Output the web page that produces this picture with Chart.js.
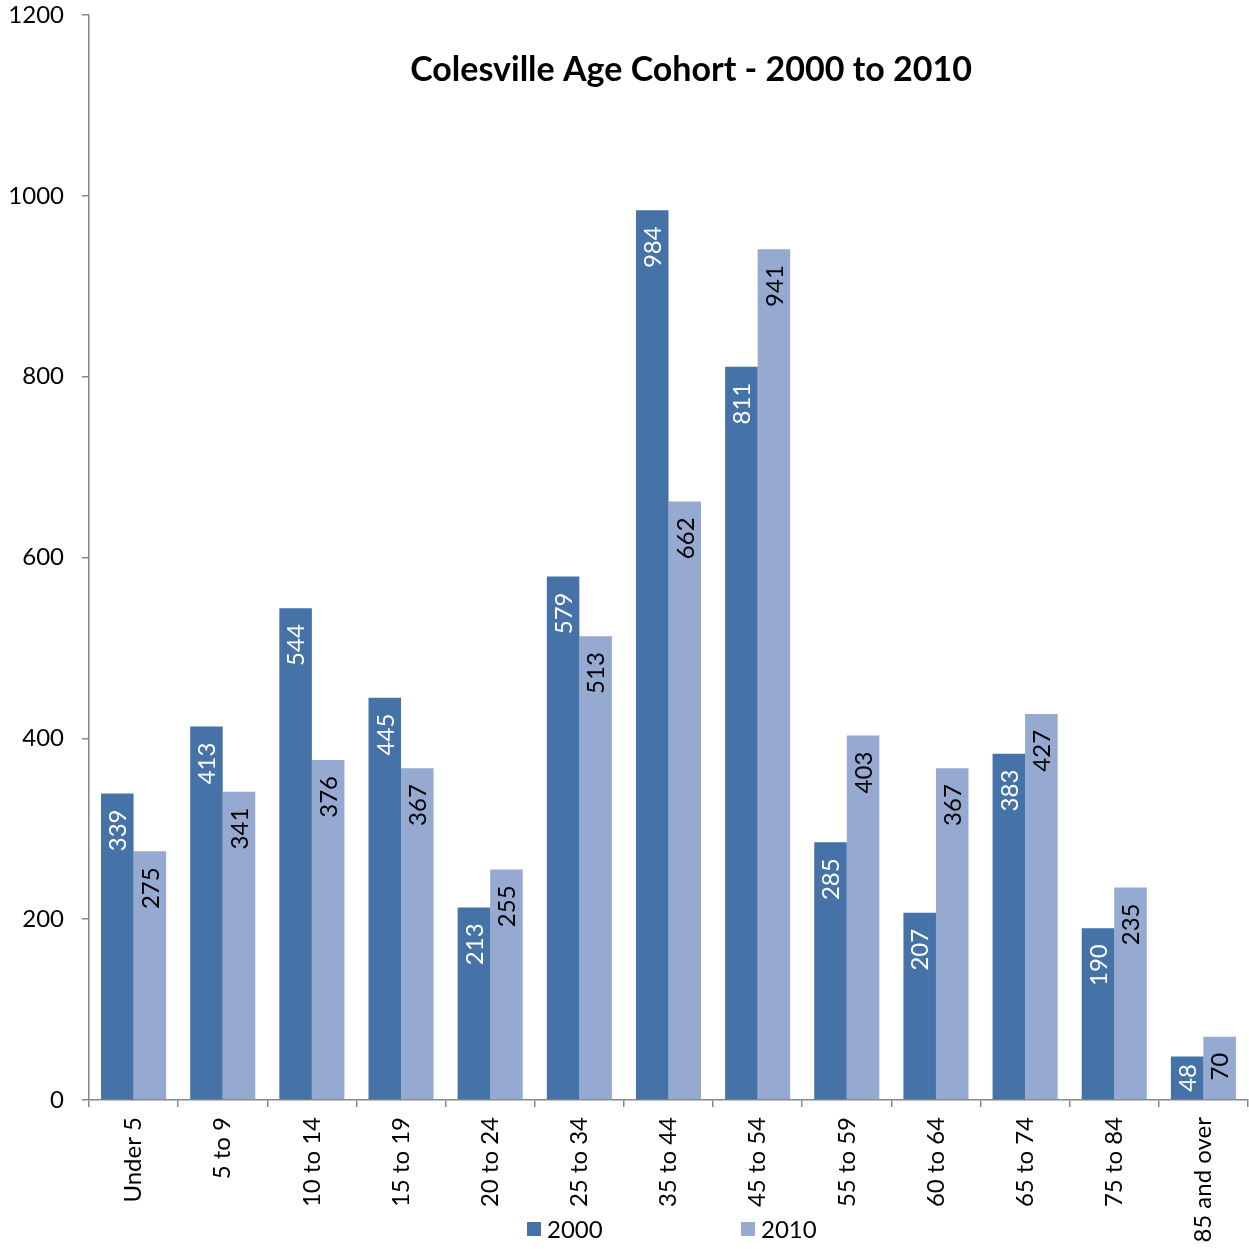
<!DOCTYPE html>
<html>
  <head>
    <meta charset="UTF-8" />
    <title>Colesville Age Cohort</title>
    <script src="https://cdn.jsdelivr.net/npm/chart.js"></script>
    <style>
      html, body { margin: 0; padding: 0; background: #fff; }
      #wrap { width: 1249px; height: 1249px; }
    </style>
  </head>
  <body>
    <div id="wrap"><canvas id="c" width="1249" height="1249"></canvas></div>
    <script>
      const categories = ["Under 5", "5 to 9", "10 to 14", "15 to 19", "20 to 24", "25 to 34",
        "35 to 44", "45 to 54", "55 to 59", "60 to 64", "65 to 74", "75 to 84", "85 and over"];
      const values2000 = [339, 413, 544, 445, 213, 579, 984, 811, 285, 207, 383, 190, 48];
      const values2010 = [275, 341, 376, 367, 255, 513, 662, 941, 403, 367, 427, 235, 70];
      const yTicks = [0, 200, 400, 600, 800, 1000, 1200];

      const FONT = "Lato, 'Liberation Sans', sans-serif";
      const axisColor = "#868686";

      // value labels inside the bar tops, rotated
      const barLabels = {
        id: "barLabels",
        afterDatasetsDraw(chart) {
          const ctx = chart.ctx;
          ctx.save();
          ctx.font = "24px " + FONT;
          chart.data.datasets.forEach((ds, di) => {
            const meta = chart.getDatasetMeta(di);
            meta.data.forEach((bar, i) => {
              const txt = String(ds.data[i]);
              const w = ctx.measureText(txt).width;
              const h = bar.base - bar.y;
              const off = Math.min(16, Math.max(3, (h - w) / 2));
              ctx.save();
              ctx.translate(bar.x, bar.y + off);
              ctx.rotate(-Math.PI / 2);
              ctx.textAlign = "right";
              ctx.textBaseline = "middle";
              ctx.fillStyle = di === 0 ? "#ffffff" : "#000000";
              ctx.fillText(txt, 0, 1);
              ctx.restore();
            });
          });
          ctx.restore();
        },
      };

      // title inside the plot and legend at the bottom
      const extras = {
        id: "extras",
        afterDraw(chart) {
          const ctx = chart.ctx;
          ctx.save();
          ctx.font = "bold 34px " + FONT;
          ctx.fillStyle = "#000";
          ctx.textAlign = "center";
          ctx.textBaseline = "middle";
          ctx.fillText("Colesville Age Cohort - 2000 to 2010", 691, 70);

          ctx.font = "24px " + FONT;
          ctx.textAlign = "left";
          const items = [
            { x: 527, ds: chart.data.datasets[0] },
            { x: 741, ds: chart.data.datasets[1] },
          ];
          items.forEach((it) => {
            ctx.fillStyle = it.ds.backgroundColor;
            ctx.fillRect(it.x, 1222, 14, 14);
            ctx.fillStyle = "#000";
            ctx.fillText(it.ds.label, it.x + 20, 1230);
          });
          ctx.restore();
        },
      };

      new Chart(document.getElementById("c"), {
        type: "bar",
        data: {
          labels: categories,
          datasets: [
            { label: "2000", data: values2000, backgroundColor: "#4572A7" },
            { label: "2010", data: values2010, backgroundColor: "#95A9D1" },
          ],
        },
        options: {
          responsive: false,
          animation: false,
          devicePixelRatio: 1,
          layout: { padding: { top: 15, right: 1, left: 0, bottom: 0 } },
          datasets: {
            bar: { categoryPercentage: 0.73, barPercentage: 1.0 },
          },
          plugins: {
            legend: { display: false },
            title: { display: false },
            tooltip: { enabled: false },
          },
          scales: {
            x: {
              afterFit(scale) {
                scale.height = 149;
                scale.paddingTop = 0;
                scale.paddingRight = 0;
              },
              grid: { drawOnChartArea: false, drawTicks: true, tickLength: 7, color: axisColor, lineWidth: 1.5, offset: true },
              border: { color: axisColor, width: 1.5 },
              ticks: {
                maxRotation: 90, minRotation: 90, color: "#000",
                font: { family: FONT, size: 24 }, padding: 10,
              },
            },
            y: {
              min: 0, max: 1200,
              afterFit(scale) {
                scale.width = 89;
                scale.paddingTop = 0;
                scale.paddingBottom = 0;
              },
              afterBuildTicks(scale) { scale.ticks = yTicks.map((v) => ({ value: v })); },
              grid: { drawOnChartArea: false, drawTicks: true, tickLength: 7, color: axisColor, lineWidth: 1.5 },
              border: { color: axisColor, width: 1.5 },
              ticks: {
                color: "#000", font: { family: FONT, size: 24 }, padding: 18,
                callback: (v) => String(v),
              },
            },
          },
        },
        plugins: [barLabels, extras],
      });
    </script>
  </body>
</html>
